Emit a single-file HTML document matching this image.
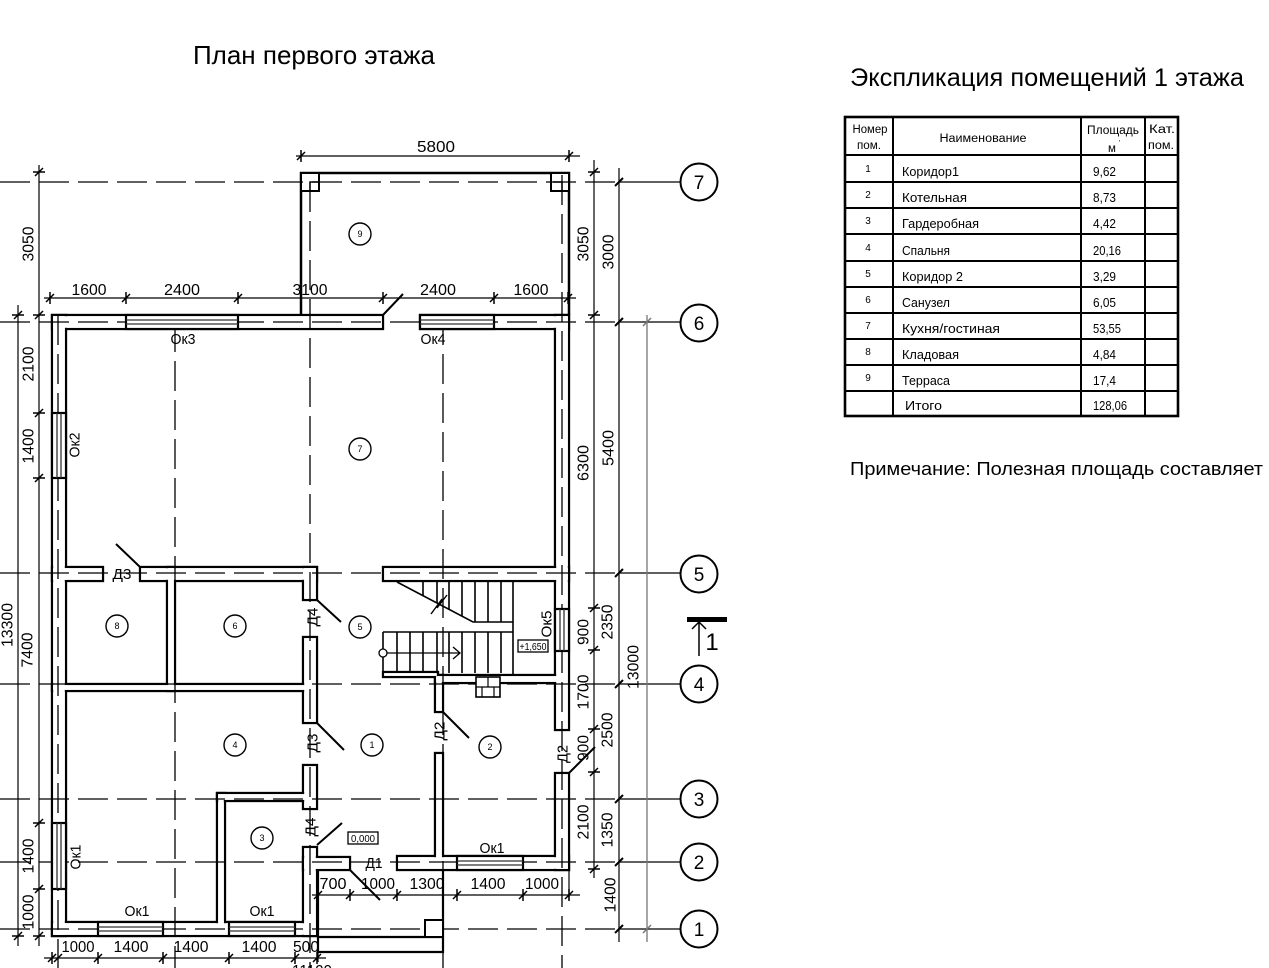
<!DOCTYPE html>
<html><head><meta charset="utf-8"><style>
html,body{margin:0;padding:0;background:#fff;overflow:hidden}
svg{display:block}
text{font-family:"Liberation Sans","DejaVu Sans",sans-serif;fill:#000}
.w{fill:#fff;stroke:#000;stroke-width:2.3}
.wf{fill:#fff;stroke:none}
.ax{stroke:#000;stroke-width:1.3;stroke-dasharray:30 9;fill:none}
.dl{stroke:#000;stroke-width:1.2;fill:none}
.tk{stroke:#000;stroke-width:1.5;fill:none}
.d{font-size:16px}
.l{font-size:15px}
.c{fill:#fff;stroke:#000;stroke-width:1.4}
.cn{font-size:9px}
.ac{fill:#fff;stroke:#000;stroke-width:2}
.an{font-size:19px}
.tb{font-size:11.5px}
.tn{font-size:12.5px}
.tr{font-size:10px}
</style></head><body>
<svg width="1269" height="968" viewBox="0 0 1269 968" xmlns="http://www.w3.org/2000/svg">
<rect width="1269" height="968" fill="#fff"/>

<!-- Titles -->
<text x="193" y="64" font-size="26" textLength="242" lengthAdjust="spacingAndGlyphs">План первого этажа</text>
<text x="850" y="86" font-size="25" textLength="394" lengthAdjust="spacingAndGlyphs">Экспликация помещений 1 этажа</text>
<text x="850" y="475" font-size="18.5" textLength="413" lengthAdjust="spacingAndGlyphs">Примечание: Полезная площадь составляет</text>

<!-- Table -->
<g>
<rect x="845" y="117" width="333" height="299" fill="none" stroke="#000" stroke-width="2.6"/>
<path d="M893 117V416M1081 117V416M1145 117V416" stroke="#000" stroke-width="2"/>
<path d="M845 155H1178M845 182H1178M845 208H1178M845 234H1178M845 261H1178M845 287H1178M845 313H1178M845 339H1178M845 365H1178M845 391H1178" stroke="#000" stroke-width="2"/>
<text class="tb" x="870" y="133" text-anchor="middle" textLength="35" lengthAdjust="spacingAndGlyphs">Номер</text>
<text class="tb" x="869" y="149" text-anchor="middle" textLength="24" lengthAdjust="spacingAndGlyphs">пом.</text>
<text class="tb" x="983" y="142" text-anchor="middle" textLength="87" lengthAdjust="spacingAndGlyphs">Наименование</text>
<text class="tb" x="1113" y="134" text-anchor="middle" textLength="52" lengthAdjust="spacingAndGlyphs">Площадь</text>
<text class="tb" x="1112" y="152" text-anchor="middle">м</text>
<text x="1119" y="145" font-size="7">'</text>
<text class="tb" x="1162" y="133" text-anchor="middle" textLength="26" lengthAdjust="spacingAndGlyphs">Кат.</text>
<text class="tb" x="1161" y="149" text-anchor="middle" textLength="26" lengthAdjust="spacingAndGlyphs">пом.</text>

<g class="tr" text-anchor="middle">
<text class="tr" x="868" y="172">1</text>
<text class="tr" x="868" y="198">2</text>
<text class="tr" x="868" y="224">3</text>
<text class="tr" x="868" y="251">4</text>
<text class="tr" x="868" y="277">5</text>
<text class="tr" x="868" y="303">6</text>
<text class="tr" x="868" y="329">7</text>
<text class="tr" x="868" y="355">8</text>
<text class="tr" x="868" y="381">9</text>
</g>
<text class="tn" x="902" y="176" textLength="57" lengthAdjust="spacingAndGlyphs">Коридор1</text>
<text class="tn" x="902" y="202" textLength="65" lengthAdjust="spacingAndGlyphs">Котельная</text>
<text class="tn" x="902" y="228" textLength="77" lengthAdjust="spacingAndGlyphs">Гардеробная</text>
<text class="tn" x="902" y="255" textLength="48" lengthAdjust="spacingAndGlyphs">Спальня</text>
<text class="tn" x="902" y="281" textLength="61" lengthAdjust="spacingAndGlyphs">Коридор 2</text>
<text class="tn" x="902" y="307" textLength="48" lengthAdjust="spacingAndGlyphs">Санузел</text>
<text class="tn" x="902" y="333" textLength="98" lengthAdjust="spacingAndGlyphs">Кухня/гостиная</text>
<text class="tn" x="902" y="359" textLength="57" lengthAdjust="spacingAndGlyphs">Кладовая</text>
<text class="tn" x="902" y="385" textLength="48" lengthAdjust="spacingAndGlyphs">Терраса</text>
<text class="tn" x="905" y="410" textLength="37" lengthAdjust="spacingAndGlyphs">Итого</text>

<text class="tn" x="1093" y="176" textLength="23" lengthAdjust="spacingAndGlyphs">9,62</text>
<text class="tn" x="1093" y="202" textLength="23" lengthAdjust="spacingAndGlyphs">8,73</text>
<text class="tn" x="1093" y="228" textLength="23" lengthAdjust="spacingAndGlyphs">4,42</text>
<text class="tn" x="1093" y="255" textLength="28" lengthAdjust="spacingAndGlyphs">20,16</text>
<text class="tn" x="1093" y="281" textLength="23" lengthAdjust="spacingAndGlyphs">3,29</text>
<text class="tn" x="1093" y="307" textLength="23" lengthAdjust="spacingAndGlyphs">6,05</text>
<text class="tn" x="1093" y="333" textLength="28" lengthAdjust="spacingAndGlyphs">53,55</text>
<text class="tn" x="1093" y="359" textLength="23" lengthAdjust="spacingAndGlyphs">4,84</text>
<text class="tn" x="1093" y="385" textLength="23" lengthAdjust="spacingAndGlyphs">17,4</text>
<text class="tn" x="1093" y="410" textLength="34" lengthAdjust="spacingAndGlyphs">128,06</text>
</g>

<!-- Terrace -->
<path d="M301 315V173H569V315" fill="none" stroke="#000" stroke-width="2.5"/>
<rect x="301" y="173" width="18" height="18" fill="#fff" stroke="#000" stroke-width="2"/>
<rect x="551" y="173" width="18" height="18" fill="#fff" stroke="#000" stroke-width="2"/>
<path d="M310 191V182H319M553 182H562V191" fill="none" stroke="#000" stroke-width="1.4"/>

<!-- Walls stroke pass -->
<g class="w">
<rect x="52" y="315" width="331" height="14"/>
<rect x="420" y="315" width="149" height="14"/>
<rect x="52" y="315" width="14" height="621"/>
<rect x="52" y="922" width="265" height="14"/>
<rect x="303" y="847" width="14" height="89"/>
<rect x="303" y="857" width="47" height="13"/>
<rect x="397" y="856" width="172" height="14"/>
<rect x="555" y="315" width="14" height="415"/>
<rect x="555" y="773" width="14" height="97"/>
<rect x="52" y="567" width="51" height="14"/>
<rect x="140" y="567" width="177" height="14"/>
<rect x="303" y="567" width="14" height="33"/>
<rect x="383" y="567" width="186" height="14"/>
<rect x="303" y="637" width="14" height="86"/>
<rect x="303" y="765" width="14" height="44"/>
<rect x="167" y="567" width="8" height="124"/>
<rect x="52" y="684" width="258" height="7"/>
<rect x="217" y="793" width="8" height="136"/>
<rect x="217" y="793" width="93" height="8"/>
<rect x="435" y="675" width="8" height="37"/>
<rect x="435" y="753" width="8" height="110"/>
<rect x="435" y="675" width="127" height="8"/>
<rect x="383" y="672" width="55" height="5"/>
</g>
<!-- Walls fill pass -->
<g class="wf">
<rect x="53.2" y="316.2" width="328.6" height="11.6"/>
<rect x="421.2" y="316.2" width="146.6" height="11.6"/>
<rect x="53.2" y="316.2" width="11.6" height="618.6"/>
<rect x="53.2" y="923.2" width="262.6" height="11.6"/>
<rect x="304.2" y="848.2" width="11.6" height="86.6"/>
<rect x="304.2" y="858.2" width="44.6" height="10.6"/>
<rect x="398.2" y="857.2" width="169.6" height="11.6"/>
<rect x="556.2" y="316.2" width="11.6" height="412.6"/>
<rect x="556.2" y="774.2" width="11.6" height="94.6"/>
<rect x="53.2" y="568.2" width="48.6" height="11.6"/>
<rect x="141.2" y="568.2" width="174.6" height="11.6"/>
<rect x="304.2" y="568.2" width="11.6" height="30.6"/>
<rect x="384.2" y="568.2" width="183.6" height="11.6"/>
<rect x="304.2" y="638.2" width="11.6" height="83.6"/>
<rect x="304.2" y="766.2" width="11.6" height="41.6"/>
<rect x="168.2" y="568.2" width="5.6" height="121.6"/>
<rect x="53.2" y="685.2" width="255.6" height="4.6"/>
<rect x="218.2" y="794.2" width="5.6" height="133.6"/>
<rect x="218.2" y="794.2" width="90.6" height="5.6"/>
<rect x="436.2" y="676.2" width="5.6" height="34.6"/>
<rect x="436.2" y="754.2" width="5.6" height="107.6"/>
<rect x="436.2" y="676.2" width="124.6" height="5.6"/>
<rect x="384.2" y="673.2" width="52" height="2.6"/>
</g>

<!-- Axes -->
<g class="ax">
<path d="M0 182H615M0 322H615M0 573H615M0 684H615M0 799H615M0 862H615M0 929H615"/>
<path d="M58 315V968M175 322V968M310 182V968M443 315V968M562 175V968"/>
</g>
<path d="M619 182H681M619 322H681M619 573H681M619 684H681M619 799H681M619 862H681M619 929H681" stroke="#000" stroke-width="1.3"/>

<!-- Windows -->
<g fill="#fff" stroke="#000" stroke-width="2.2">
<rect x="126" y="315" width="112" height="14"/>
<rect x="420" y="315" width="74" height="14"/>
<rect x="98" y="922" width="65" height="14"/>
<rect x="229" y="922" width="66" height="14"/>
<rect x="457" y="856" width="66" height="14"/>
<rect x="52" y="413" width="14" height="65"/>
<rect x="52" y="823" width="14" height="66"/>
<rect x="555" y="609" width="14" height="42"/>
</g>
<g stroke="#333" stroke-width="1.3">
<path d="M126 320H238M126 324H238M420 320H494M420 324H494"/>
<path d="M98 927H163M98 931H163M229 927H295M229 931H295M457 861H523M457 865H523"/>
<path d="M57 413V478M61 413V478M57 823V889M61 823V889M560 609V651M564 609V651"/>
</g>

<!-- Doors swings -->
<path d="M383 315L403 294M140 567L116 544M317 600L341 622M317 723L344 750M443 712L469 738M569 773L595 747M317 845L342 823M350 870L380 900" stroke="#000" stroke-width="2"/>

<!-- Porch -->
<path d="M318 870V952H443V870M318 937H443" fill="none" stroke="#000" stroke-width="2.2"/>
<rect x="425" y="920" width="18" height="17" fill="#fff" stroke="#000" stroke-width="2"/>

<!-- Stairs -->
<g stroke="#000" stroke-width="1.6" fill="none">
<path d="M397 582L473 622H513M513 581V675"/>
<path d="M423 581V595.7M437 581V603M449 581V609.4M462 581V616.2M475 581V622M488 581V622M501 581V622"/>
<path d="M383 632H513M383 632V677"/>
<path d="M397 632V673M410 632V673M423 632V673M437 632V673M449 632V673M462 632V673M475 632V673M488 632V673M501 632V673"/>
<path d="M431 614L442 599L437 608L447 595" stroke-width="1.4"/>
<path d="M387 653H460M453 647L460 653L453 659" stroke-width="1.3"/>
</g>
<circle cx="383" cy="653" r="4" fill="#fff" stroke="#000" stroke-width="1.3"/>
<rect x="476" y="677" width="24" height="20" fill="#fff" stroke="#000" stroke-width="1.6"/>
<path d="M476 687H500M488 677V687M482 687V697M494 687V697" stroke="#000" stroke-width="1.2"/>

<!-- Level marks -->
<rect x="518" y="640" width="30" height="12" fill="#fff" stroke="#000" stroke-width="1.3"/>
<text x="533" y="650" font-size="10" text-anchor="middle" textLength="27" lengthAdjust="spacingAndGlyphs">+1,650</text>
<rect x="348" y="832" width="30" height="12" fill="#fff" stroke="#000" stroke-width="1.3"/>
<text x="363" y="842" font-size="10" text-anchor="middle" textLength="24" lengthAdjust="spacingAndGlyphs">0,000</text>

<!-- Room circles -->
<g>
<circle class="c" cx="360" cy="234" r="11"/><text class="cn" x="360" y="237" text-anchor="middle">9</text>
<circle class="c" cx="360" cy="449" r="11"/><text class="cn" x="360" y="452" text-anchor="middle">7</text>
<circle class="c" cx="117" cy="626" r="11"/><text class="cn" x="117" y="629" text-anchor="middle">8</text>
<circle class="c" cx="235" cy="626" r="11"/><text class="cn" x="235" y="629" text-anchor="middle">6</text>
<circle class="c" cx="360" cy="627" r="11"/><text class="cn" x="360" y="630" text-anchor="middle">5</text>
<circle class="c" cx="235" cy="745" r="11"/><text class="cn" x="235" y="748" text-anchor="middle">4</text>
<circle class="c" cx="372" cy="745" r="11"/><text class="cn" x="372" y="748" text-anchor="middle">1</text>
<circle class="c" cx="490" cy="747" r="11"/><text class="cn" x="490" y="750" text-anchor="middle">2</text>
<circle class="c" cx="262" cy="838" r="11"/><text class="cn" x="262" y="841" text-anchor="middle">3</text>
</g>

<!-- Labels -->
<g class="l">
<text class="l" x="183" y="344" text-anchor="middle" textLength="25" lengthAdjust="spacingAndGlyphs">Ок3</text>
<text class="l" x="433" y="344" text-anchor="middle" textLength="25" lengthAdjust="spacingAndGlyphs">Ок4</text>
<text class="l" x="137" y="916" text-anchor="middle" textLength="25" lengthAdjust="spacingAndGlyphs">Ок1</text>
<text class="l" x="262" y="916" text-anchor="middle" textLength="25" lengthAdjust="spacingAndGlyphs">Ок1</text>
<text class="l" x="492" y="853" text-anchor="middle" textLength="25" lengthAdjust="spacingAndGlyphs">Ок1</text>
<text class="l" transform="translate(74 445) rotate(-90)" y="5.4" text-anchor="middle" textLength="25" lengthAdjust="spacingAndGlyphs">Ок2</text>
<text class="l" transform="translate(75 857) rotate(-90)" y="5.4" text-anchor="middle" textLength="25" lengthAdjust="spacingAndGlyphs">Ок1</text>
<text class="l" transform="translate(546 624) rotate(-90)" y="5.4" text-anchor="middle" textLength="27" lengthAdjust="spacingAndGlyphs">Ок5</text>
<text class="l" x="122" y="579" text-anchor="middle" textLength="19" lengthAdjust="spacingAndGlyphs">Д3</text>
<text class="l" transform="translate(312 617) rotate(-90)" y="5.4" text-anchor="middle" textLength="19" lengthAdjust="spacingAndGlyphs">Д4</text>
<text class="l" transform="translate(312 743) rotate(-90)" y="5.4" text-anchor="middle" textLength="19" lengthAdjust="spacingAndGlyphs">Д3</text>
<text class="l" transform="translate(310 827) rotate(-90)" y="5.4" text-anchor="middle" textLength="19" lengthAdjust="spacingAndGlyphs">Д4</text>
<text class="l" transform="translate(439 731) rotate(-90)" y="5.4" text-anchor="middle" textLength="19" lengthAdjust="spacingAndGlyphs">Д2</text>
<text class="l" transform="translate(562 754) rotate(-90)" y="5.4" text-anchor="middle" textLength="18" lengthAdjust="spacingAndGlyphs">Д2</text>
<text class="l" x="374" y="868" text-anchor="middle" textLength="17" lengthAdjust="spacingAndGlyphs">Д1</text>
</g>

<!-- Dimension lines -->
<g class="dl">
<path d="M296 156H580M44 298H576"/>
<path d="M39 165V946M18 305V946"/>
<path d="M594 160V878M619 168V942"/>
<path d="M312 895H580M44 958H326"/>
<path d="M569 870V900M318 952V962"/>
</g>
<path d="M647 315V942" stroke="#777" stroke-width="1.3"/>
<g class="tk">
<path d="M297 160L305 152M301 150V162M565 160L573 152M569 150V162"/>
<path d="M46 302L54 294M50 292V304M122 302L130 294M126 292V304M234 302L242 294M238 292V304M379 302L387 294M383 292V304M490 302L498 294M494 292V304M564 302L572 294M568 292V304"/>
<path d="M35 176L43 168M33 172H45M35 319L43 311M33 315H45M35 417L43 409M33 413H45M35 482L43 474M33 478H45M35 827L43 819M33 823H45M35 893L43 885M33 889H45M35 940L43 932M33 936H45"/>
<path d="M14 319L22 311M12 315H24M14 940L22 932M12 936H24"/>
<path d="M590 176L598 168M588 172H600M590 319L598 311M588 315H600M590 612L598 604M588 608H600M590 654L598 646M588 650H600M590 733L598 725M588 729H600M590 776L598 768M588 772H600M590 873L598 865M588 869H600"/>
<path d="M615 186L623 178M615 326L623 318M615 577L623 569M615 688L623 680M615 803L623 795M615 866L623 858M615 933L623 925" stroke-width="2"/>
<path d="M643 326L651 318M643 933L651 925" stroke="#777"/>
<path d="M314 899L322 891M318 889V901M346 899L354 891M350 889V901M393 899L401 891M397 889V901M453 899L461 891M457 889V901M519 899L527 891M523 889V901M565 899L573 891M569 889V901"/>
<path d="M48 962L56 954M52 952V964M54 962L62 954M94 962L102 954M98 952V964M159 962L167 954M163 952V964M225 962L233 954M229 952V964M291 962L299 954M295 952V964M313 962L321 954M317 952V964"/>
</g>

<!-- Dimension texts -->
<g class="d">
<text class="d" x="436" y="152" text-anchor="middle" textLength="38" lengthAdjust="spacingAndGlyphs">5800</text>
<text class="d" x="89" y="295" text-anchor="middle" textLength="35" lengthAdjust="spacingAndGlyphs">1600</text>
<text class="d" x="182" y="295" text-anchor="middle" textLength="36" lengthAdjust="spacingAndGlyphs">2400</text>
<text class="d" x="310" y="295" text-anchor="middle" textLength="35" lengthAdjust="spacingAndGlyphs">3100</text>
<text class="d" x="438" y="295" text-anchor="middle" textLength="36" lengthAdjust="spacingAndGlyphs">2400</text>
<text class="d" x="531" y="295" text-anchor="middle" textLength="35" lengthAdjust="spacingAndGlyphs">1600</text>

<text class="d" transform="translate(28 244) rotate(-90)" y="5.7" text-anchor="middle" textLength="35" lengthAdjust="spacingAndGlyphs">3050</text>
<text class="d" transform="translate(28 364) rotate(-90)" y="5.7" text-anchor="middle" textLength="35" lengthAdjust="spacingAndGlyphs">2100</text>
<text class="d" transform="translate(28 446) rotate(-90)" y="5.7" text-anchor="middle" textLength="35" lengthAdjust="spacingAndGlyphs">1400</text>
<text class="d" transform="translate(27 650) rotate(-90)" y="5.7" text-anchor="middle" textLength="35" lengthAdjust="spacingAndGlyphs">7400</text>
<text class="d" transform="translate(7 625) rotate(-90)" y="5.7" text-anchor="middle" textLength="44" lengthAdjust="spacingAndGlyphs">13300</text>
<text class="d" transform="translate(28 856) rotate(-90)" y="5.7" text-anchor="middle" textLength="35" lengthAdjust="spacingAndGlyphs">1400</text>
<text class="d" transform="translate(28 912) rotate(-90)" y="5.7" text-anchor="middle" textLength="35" lengthAdjust="spacingAndGlyphs">1000</text>

<text class="d" transform="translate(583 244) rotate(-90)" y="5.7" text-anchor="middle" textLength="35" lengthAdjust="spacingAndGlyphs">3050</text>
<text class="d" transform="translate(583 463) rotate(-90)" y="5.7" text-anchor="middle" textLength="36" lengthAdjust="spacingAndGlyphs">6300</text>
<text class="d" transform="translate(583 632) rotate(-90)" y="5.7" text-anchor="middle" textLength="26" lengthAdjust="spacingAndGlyphs">900</text>
<text class="d" transform="translate(583 692) rotate(-90)" y="5.7" text-anchor="middle" textLength="35" lengthAdjust="spacingAndGlyphs">1700</text>
<text class="d" transform="translate(583 748) rotate(-90)" y="5.7" text-anchor="middle" textLength="26" lengthAdjust="spacingAndGlyphs">900</text>
<text class="d" transform="translate(583 822) rotate(-90)" y="5.7" text-anchor="middle" textLength="35" lengthAdjust="spacingAndGlyphs">2100</text>

<text class="d" transform="translate(608 252) rotate(-90)" y="5.7" text-anchor="middle" textLength="35" lengthAdjust="spacingAndGlyphs">3000</text>
<text class="d" transform="translate(608 448) rotate(-90)" y="5.7" text-anchor="middle" textLength="36" lengthAdjust="spacingAndGlyphs">5400</text>
<text class="d" transform="translate(607 622) rotate(-90)" y="5.7" text-anchor="middle" textLength="35" lengthAdjust="spacingAndGlyphs">2350</text>
<text class="d" transform="translate(607 730) rotate(-90)" y="5.7" text-anchor="middle" textLength="35" lengthAdjust="spacingAndGlyphs">2500</text>
<text class="d" transform="translate(607 830) rotate(-90)" y="5.7" text-anchor="middle" textLength="35" lengthAdjust="spacingAndGlyphs">1350</text>
<text class="d" transform="translate(610 895) rotate(-90)" y="5.7" text-anchor="middle" textLength="35" lengthAdjust="spacingAndGlyphs">1400</text>
<text class="d" transform="translate(633 667) rotate(-90)" y="5.7" text-anchor="middle" textLength="44" lengthAdjust="spacingAndGlyphs">13000</text>

<text class="d" x="333" y="889" text-anchor="middle" textLength="27" lengthAdjust="spacingAndGlyphs">700</text>
<text class="d" x="378" y="889" text-anchor="middle" textLength="34" lengthAdjust="spacingAndGlyphs">1000</text>
<text class="d" x="427" y="889" text-anchor="middle" textLength="35" lengthAdjust="spacingAndGlyphs">1300</text>
<text class="d" x="488" y="889" text-anchor="middle" textLength="35" lengthAdjust="spacingAndGlyphs">1400</text>
<text class="d" x="542" y="889" text-anchor="middle" textLength="34" lengthAdjust="spacingAndGlyphs">1000</text>

<text class="d" x="78" y="952" text-anchor="middle" textLength="33" lengthAdjust="spacingAndGlyphs">1000</text>
<text class="d" x="131" y="952" text-anchor="middle" textLength="35" lengthAdjust="spacingAndGlyphs">1400</text>
<text class="d" x="191" y="952" text-anchor="middle" textLength="35" lengthAdjust="spacingAndGlyphs">1400</text>
<text class="d" x="259" y="952" text-anchor="middle" textLength="35" lengthAdjust="spacingAndGlyphs">1400</text>
<text class="d" x="306" y="952" text-anchor="middle" textLength="26" lengthAdjust="spacingAndGlyphs">500</text>
<text class="d" x="312" y="976" text-anchor="middle" textLength="40" lengthAdjust="spacingAndGlyphs">11100</text>
</g>

<!-- Axis circles -->
<g>
<circle class="ac" cx="699" cy="182" r="18.5"/><text class="an" x="699" y="189" text-anchor="middle">7</text>
<circle class="ac" cx="699" cy="323" r="18.5"/><text class="an" x="699" y="330" text-anchor="middle">6</text>
<circle class="ac" cx="699" cy="574" r="18.5"/><text class="an" x="699" y="581" text-anchor="middle">5</text>
<circle class="ac" cx="699" cy="684" r="18.5"/><text class="an" x="699" y="691" text-anchor="middle">4</text>
<circle class="ac" cx="699" cy="799" r="18.5"/><text class="an" x="699" y="806" text-anchor="middle">3</text>
<circle class="ac" cx="699" cy="862" r="18.5"/><text class="an" x="699" y="869" text-anchor="middle">2</text>
<circle class="ac" cx="699" cy="929" r="18.5"/><text class="an" x="699" y="936" text-anchor="middle">1</text>
</g>

<!-- Section mark -->
<rect x="687" y="617" width="40" height="5" fill="#000"/>
<path d="M699 622V656M692 629L699 622L706 629" stroke="#000" stroke-width="1.5" fill="none"/>
<text x="712" y="650" font-size="24" text-anchor="middle">1</text>
</svg>
</body></html>
